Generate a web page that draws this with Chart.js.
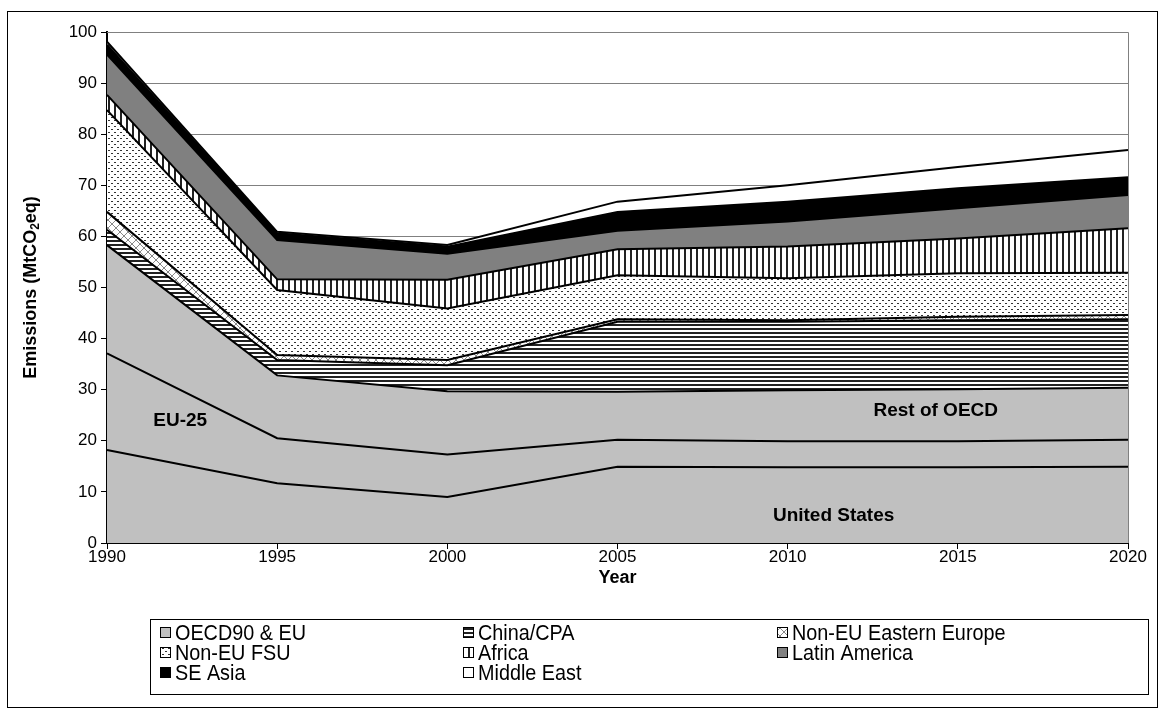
<!DOCTYPE html>
<html>
<head>
<meta charset="utf-8">
<script src="https://cdn.jsdelivr.net/npm/chart.js@4/dist/chart.umd.min.js"></script>
<style>
html, body { margin: 0; padding: 0; background: #fff; }
</style>
</head>
<body>
<canvas id="c" width="1161" height="711"></canvas>
<script>
// years on the x axis
const years = ["1990", "1995", "2000", "2005", "2010", "2015", "2020"];

// stacked emissions (MtCO2eq), bottom to top
const unitedStates = [18.2, 11.7, 9.0, 14.9, 14.8, 14.8, 14.9];
const eu25 = [18.9, 8.8, 8.3, 5.3, 5.1, 5.1, 5.3];
const restOfOecd = [21.2, 12.3, 12.4, 9.4, 10.0, 10.2, 10.2];
const chinaCpa = [3.0, 3.0, 5.1, 13.7, 13.4, 13.5, 13.4];
const nonEuEastEurope = [3.5, 1.0, 1.0, 0.5, 0.3, 0.7, 0.8];
const nonEuFsu = [19.9, 12.7, 10.1, 8.6, 8.2, 8.5, 8.3];
const africa = [3.0, 2.1, 5.6, 5.1, 6.2, 6.8, 8.7];
const latinAmerica = [7.9, 7.7, 5.1, 3.6, 4.9, 5.9, 6.5];
const seAsia = [1.9, 1.3, 1.4, 3.7, 3.9, 3.9, 3.5];
const middleEast = [0.6, 0.3, 0.3, 2.0, 3.2, 4.2, 5.3];

const legendLabels = ["OECD90 & EU", "China/CPA", "Non-EU Eastern Europe", "Non-EU FSU", "Africa", "Latin America", "SE Asia", "Middle East"];

const FONT = "'Liberation Sans', Arial, sans-serif";
const canvas = document.getElementById("c");
const ctx = canvas.getContext("2d");

// little tiles for the hatched fills
const makePattern = (w, h, draw) => {
    const t = document.createElement("canvas");
    t.width = w; t.height = h;
    const g = t.getContext("2d");
    g.fillStyle = "#fff";
    g.fillRect(0, 0, w, h);
    draw(g);
    return ctx.createPattern(t, "repeat");
};

const grey = "#c0c0c0";
const stripesH = makePattern(4, 4, g => { g.fillStyle = "#222"; g.fillRect(0, 0, 4, 2); });
const crossHatch = makePattern(8, 8, g => {
    g.strokeStyle = "#888"; g.lineWidth = 1;
    g.beginPath(); g.moveTo(0, 0); g.lineTo(8, 8); g.moveTo(8, 0); g.lineTo(0, 8); g.stroke();
});
const dots = makePattern(6, 6, g => { g.fillStyle = "#333"; g.fillRect(0, 0, 2, 1); g.fillRect(3, 3, 2, 1); });
const stripesV = makePattern(6, 6, g => { g.fillStyle = "#222"; g.fillRect(0, 0, 2, 6); });
const midGrey = "#808080";

const series = [
    { label: "United States", data: unitedStates, fill: grey, legend: false },
    { label: "EU-25", data: eu25, fill: grey, legend: false },
    { label: legendLabels[0], data: restOfOecd, fill: grey, legend: true },
    { label: legendLabels[1], data: chinaCpa, fill: stripesH, legend: true },
    { label: legendLabels[2], data: nonEuEastEurope, fill: crossHatch, legend: true },
    { label: legendLabels[3], data: nonEuFsu, fill: dots, legend: true },
    { label: legendLabels[4], data: africa, fill: stripesV, legend: true },
    { label: legendLabels[5], data: latinAmerica, fill: midGrey, legend: true },
    { label: legendLabels[6], data: seAsia, fill: "#000", legend: true },
    { label: legendLabels[7], data: middleEast, fill: "#fff", legend: true }
];

const datasets = series.map((s, i) => ({
    label: s.label,
    data: s.data,
    backgroundColor: s.fill,
    borderColor: "#000",
    borderWidth: 2,
    pointRadius: 0,
    tension: 0,
    fill: i === 0 ? "origin" : "-1"
}));

// text written inside the grey areas
const areaNotes = [
    { text: "EU-25", x: 0.43, y: 24 },
    { text: "Rest of OECD", x: 4.87, y: 25.8 },
    { text: "United States", x: 4.27, y: 5.3 }
];

const extras = {
    id: "extras",
    afterDatasetsDraw(chart) {
        const c = chart.ctx, a = chart.chartArea;
        const xs = chart.scales.x, ys = chart.scales.y;
        c.save();
        // plot frame, right and top in grey
        c.strokeStyle = "#808080"; c.lineWidth = 1;
        c.beginPath();
        c.moveTo(a.left, a.top + 0.5); c.lineTo(a.right + 0.5, a.top + 0.5); c.lineTo(a.right + 0.5, a.bottom);
        c.stroke();
        // labels in areas
        c.fillStyle = "#000";
        c.font = "bold 19px " + FONT;
        c.textAlign = "center"; c.textBaseline = "middle";
        areaNotes.forEach(n => c.fillText(n.text, xs.getPixelForValue(n.x), ys.getPixelForValue(n.y)));
        c.restore();
    },
    afterDraw(chart) {
        const c = chart.ctx, a = chart.chartArea;
        c.save();
        // outer frame
        c.strokeStyle = "#000"; c.lineWidth = 1;
        c.strokeRect(7.5, 11.5, 1150, 696);
        // y title with subscript
        c.fillStyle = "#000";
        c.translate(31, (a.top + a.bottom) / 2);
        c.rotate(-Math.PI / 2);
        c.textBaseline = "middle";
        const p1 = "Emissions (MtCO", p2 = "2", p3 = "eq)";
        c.font = "bold 18px " + FONT;
        const w1 = c.measureText(p1).width, w3 = c.measureText(p3).width;
        c.font = "bold 12px " + FONT;
        const w2 = c.measureText(p2).width;
        let x0 = -(w1 + w2 + w3) / 2;
        c.textAlign = "left";
        c.font = "bold 18px " + FONT;
        c.fillText(p1, x0, 0);
        c.font = "bold 12px " + FONT;
        c.fillText(p2, x0 + w1, 5);
        c.font = "bold 18px " + FONT;
        c.fillText(p3, x0 + w1 + w2, 0);
        c.restore();

        c.save();
        // x title
        c.fillStyle = "#000";
        c.font = "bold 18px " + FONT;
        c.textAlign = "center"; c.textBaseline = "middle";
        c.fillText("Year", (a.left + a.right) / 2, 578);
        // legend box
        c.strokeStyle = "#000"; c.lineWidth = 1;
        c.strokeRect(150.5, 619.5, 998, 75);
        const cols = [160, 463, 777], rows = [633, 653, 673];
        const items = series.filter(s => s.legend);
        items.forEach((s, i) => {
            const x = cols[i % 3], y = rows[Math.floor(i / 3)];
            c.fillStyle = s.fill;
            c.fillRect(x, y - 6, 11, 11);
            c.strokeStyle = "#000";
            c.strokeRect(x + 0.5, y - 5.5, 10, 10);
            // slightly narrow text, like the original
            c.save();
            c.translate(x + 15, y + 1);
            c.scale(0.9, 1);
            c.fillStyle = "#000";
            c.font = "22px " + FONT;
            c.textAlign = "left"; c.textBaseline = "middle";
            c.fillText(s.label, 0, 0);
            c.restore();
        });
        c.restore();
    }
};

new Chart(canvas, {
    type: "line",
    data: { labels: years, datasets },
    options: {
        responsive: false,
        animation: false,
        devicePixelRatio: 1,
        layout: { padding: { top: 32, right: 33, left: 0, bottom: 0 } },
        plugins: { legend: { display: false }, tooltip: { enabled: false } },
        scales: {
            x: {
                offset: false,
                grid: { display: true, drawOnChartArea: false, tickLength: 6, tickColor: "#000" },
                border: { color: "#000", width: 2 },
                ticks: { color: "#000", font: { family: FONT, size: 17 }, padding: -2, maxRotation: 0 },
                afterFit: s => { s.height = 711 - 543; }
            },
            y: {
                stacked: true,
                min: 0, max: 100,
                grid: { color: "#808080", lineWidth: 1, tickLength: 6, tickColor: "#000" },
                border: { color: "#000", width: 2 },
                ticks: { stepSize: 10, color: "#000", font: { family: FONT, size: 17 }, padding: 4 },
                afterFit: s => { s.width = 107; }
            }
        }
    },
    plugins: [extras]
});
</script>
</body>
</html>
